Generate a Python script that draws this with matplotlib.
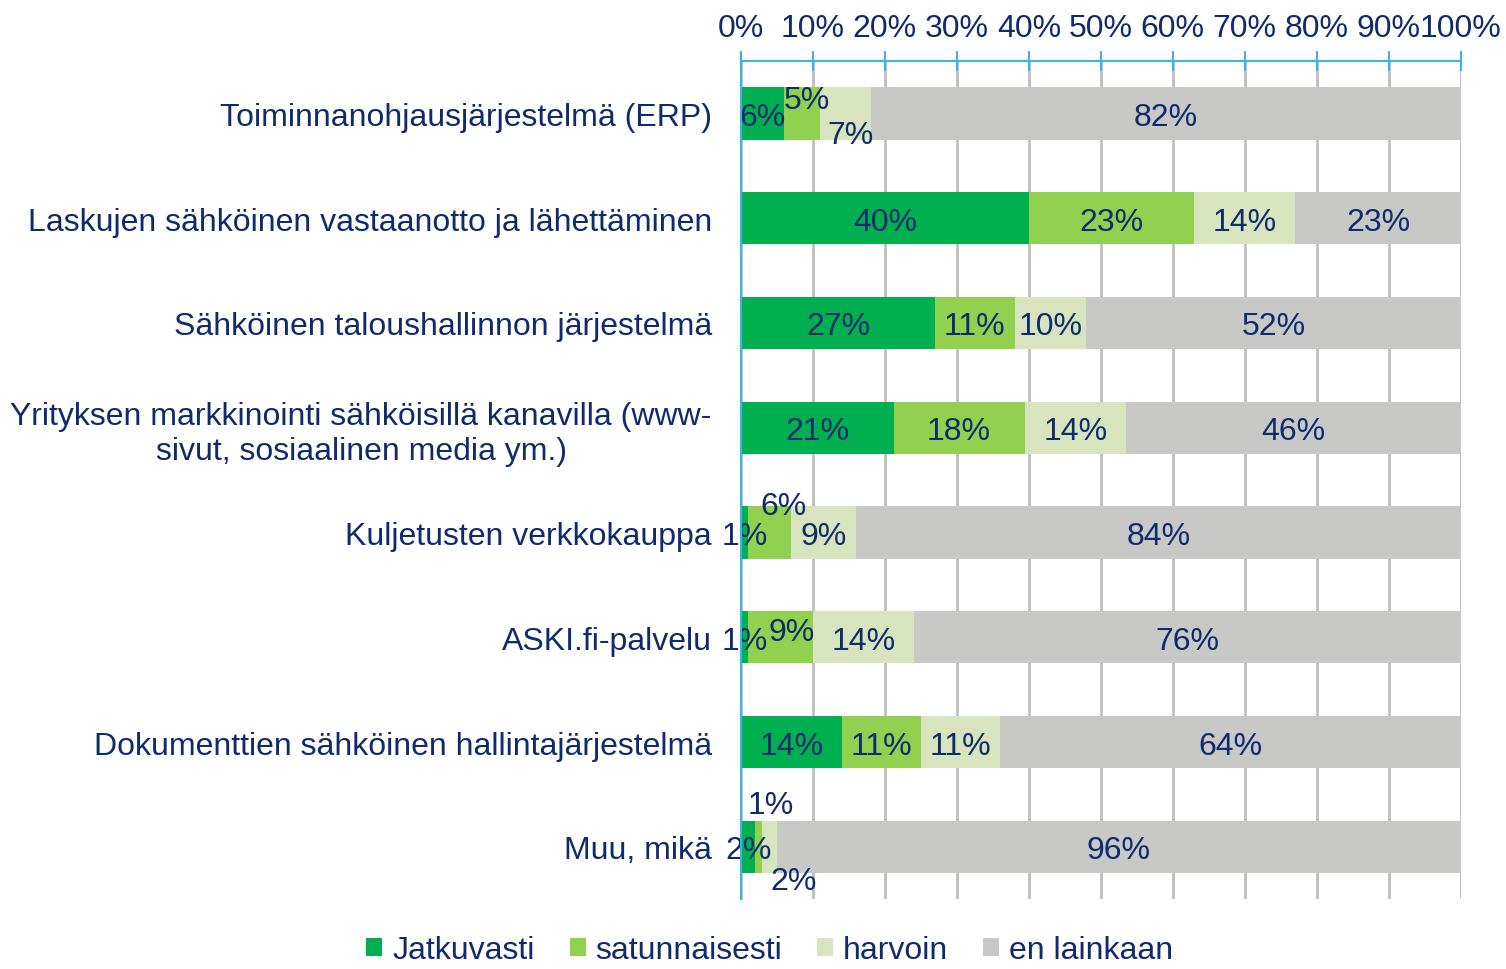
import numpy as np
import matplotlib.pyplot as plt

plt.rcParams['font.family'] = ['Liberation Sans', 'DejaVu Sans']

# Data
categories = [
    "Toiminnanohjausjärjestelmä (ERP)",
    "Laskujen sähköinen vastaanotto ja lähettäminen",
    "Sähköinen taloushallinnon järjestelmä",
    "Yrityksen markkinointi sähköisillä kanavilla (www-\nsivut, sosiaalinen media ym.)",
    "Kuljetusten verkkokauppa",
    "ASKI.fi-palvelu",
    "Dokumenttien sähköinen hallintajärjestelmä",
    "Muu, mikä",
]
series = ["Jatkuvasti", "satunnaisesti", "harvoin", "en lainkaan"]
jatkuvasti = [6, 40, 27, 21, 1, 1, 14, 2]
satunnaisesti = [5, 23, 11, 18, 6, 9, 11, 1]
harvoin = [7, 14, 10, 14, 9, 14, 11, 2]
en_lainkaan = [82, 23, 52, 46, 84, 76, 64, 96]
tick_labels = ["0%", "10%", "20%", "30%", "40%", "50%", "60%", "70%", "80%", "90%", "100%"]

colors = ["#00B050", "#92D050", "#D7E4BD", "#C8C8C7"]
text_color = "#0F2B6B"
axis_blue = "#3CB4E6"

# label nudges (row, series) -> (dx, dy) in axis units, for crowded small segments
nudges = {
    (0, 1): (0.007, -0.16),
    (0, 2): (0.007, 0.17),
    (4, 1): (0.019, -0.29),
    (5, 1): (0.015, -0.08),
    (7, 1): (0.017, -0.43),
    (7, 2): (0.034, 0.29),
}

values = np.array([jatkuvasti, satunnaisesti, harvoin, en_lainkaan], dtype=float)
shares = values / values.sum(axis=0)

fig = plt.figure(figsize=(15.06, 9.70), dpi=100)
ax = fig.add_axes([0.492, 0.072, 0.478, 0.864])

y = np.arange(len(categories))
left = np.zeros(len(categories))
for i, name in enumerate(series):
    ax.barh(y, shares[i], left=left, height=0.5, color=colors[i],
            label=name, zorder=2)
    for r in range(len(categories)):
        dx, dy = nudges.get((r, i), (0, 0))
        ax.text(left[r] + shares[i][r] / 2 + dx, y[r] + dy,
                f"{int(values[i][r])}%", ha="center", va="center_baseline",
                fontsize=23, color=text_color, zorder=3)
    left += shares[i]

ax.set_xlim(0, 1)
ax.set_ylim(len(categories) - 0.5, -0.5)
ax.set_xticks(np.linspace(0, 1, 11))
ax.set_xticklabels(tick_labels)
ax.xaxis.tick_top()
ax.tick_params(axis="x", direction="inout", length=14, width=1.5,
               color=axis_blue, labelsize=23, labelcolor=text_color, pad=6)
ax.set_yticks(y)
ax.set_yticklabels(categories)
ax.tick_params(axis="y", length=0, labelsize=23, labelcolor=text_color, pad=21)
for lab in ax.get_yticklabels():
    lab.set_multialignment("center")

ax.grid(axis="x", color="#BFBFBF", linewidth=2, zorder=0)
ax.set_axisbelow(True)
for side in ["bottom", "right"]:
    ax.spines[side].set_visible(False)
for side in ["top", "left"]:
    ax.spines[side].set_color(axis_blue)
    ax.spines[side].set_linewidth(1.5)
    ax.spines[side].set_zorder(4)

leg = fig.legend(loc="lower center", bbox_to_anchor=(0.511, -0.026), ncol=4,
                 frameon=False, fontsize=23, handlelength=0.5, handleheight=0.5,
                 handletextpad=0.3, columnspacing=1.1)
for t in leg.get_texts():
    t.set_color(text_color)

fig.savefig("out.png", dpi=100)
